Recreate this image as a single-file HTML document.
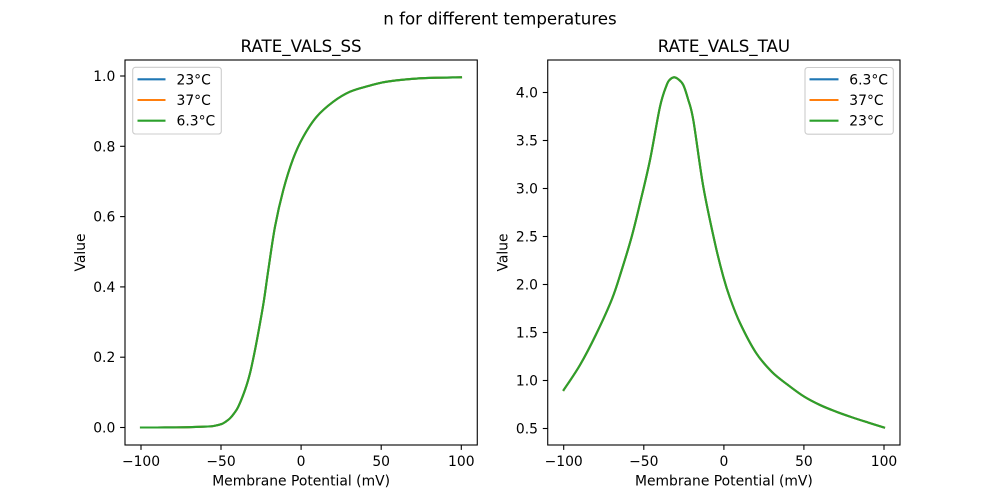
<!DOCTYPE html>
<html><head><meta charset="utf-8"><style>
html,body{margin:0;padding:0;background:#fff;}
svg{display:block;}
text{font-family:"DejaVu Sans","Liberation Sans",sans-serif;fill:#000;}
</style></head><body>
<svg id="fig" width="1000" height="500" viewBox="0 0 1000 500" xmlns="http://www.w3.org/2000/svg">
<rect x="0" y="0" width="1000" height="500" fill="#fff"/>
<text x="500" y="24.5" font-size="16.67" text-anchor="middle">n for different temperatures</text>

<!-- LEFT AXES -->
<text x="301.1" y="52" font-size="16.67" text-anchor="middle">RATE_VALS_SS</text>
<g fill="none" stroke-width="2.08" stroke-linejoin="round" stroke-linecap="square">
<polyline class="sm" stroke="#1f77b4" points="141,427.5 157,427.5 173,427.4 189,427.2 205,426.6 213,426.1 221.7,424 226,421.5 230,418.3 234,413.5 238.3,406.7 245,390 250,373.3 255,350 260,323.3 264,300 268.3,270 275,226.7 283.3,190 293.3,158.3 303.3,136.7 316.7,116.7 333.3,101.7 350,91.7 368.3,86 386.7,81.7 420,78.3 461,77.3"/>
<polyline class="sm" stroke="#ff7f0e" points="141,427.5 157,427.5 173,427.4 189,427.2 205,426.6 213,426.1 221.7,424 226,421.5 230,418.3 234,413.5 238.3,406.7 245,390 250,373.3 255,350 260,323.3 264,300 268.3,270 275,226.7 283.3,190 293.3,158.3 303.3,136.7 316.7,116.7 333.3,101.7 350,91.7 368.3,86 386.7,81.7 420,78.3 461,77.3"/>
<polyline class="sm" stroke="#2ca02c" points="141,427.5 157,427.5 173,427.4 189,427.2 205,426.6 213,426.1 221.7,424 226,421.5 230,418.3 234,413.5 238.3,406.7 245,390 250,373.3 255,350 260,323.3 264,300 268.3,270 275,226.7 283.3,190 293.3,158.3 303.3,136.7 316.7,116.7 333.3,101.7 350,91.7 368.3,86 386.7,81.7 420,78.3 461,77.3"/>
</g>
<rect x="125" y="60" width="352.27" height="385" fill="none" stroke="#000" stroke-width="1.1"/>
<g stroke="#000" stroke-width="1.1">
<line x1="141" y1="445" x2="141" y2="449.9"/>
<line x1="221" y1="445" x2="221" y2="449.9"/>
<line x1="301.1" y1="445" x2="301.1" y2="449.9"/>
<line x1="381.2" y1="445" x2="381.2" y2="449.9"/>
<line x1="461.3" y1="445" x2="461.3" y2="449.9"/>
<line x1="120.1" y1="427.5" x2="125" y2="427.5"/>
<line x1="120.1" y1="357.2" x2="125" y2="357.2"/>
<line x1="120.1" y1="286.9" x2="125" y2="286.9"/>
<line x1="120.1" y1="216.6" x2="125" y2="216.6"/>
<line x1="120.1" y1="146.3" x2="125" y2="146.3"/>
<line x1="120.1" y1="76" x2="125" y2="76"/>
</g>
<g font-size="13.89" text-anchor="middle">
<text x="141" y="466">−100</text>
<text x="221" y="466">−50</text>
<text x="301.1" y="466">0</text>
<text x="381.2" y="466">50</text>
<text x="461.3" y="466">100</text>
</g>
<g font-size="13.89" text-anchor="end">
<text x="115.3" y="432.5">0.0</text>
<text x="115.3" y="362.2">0.2</text>
<text x="115.3" y="291.9">0.4</text>
<text x="115.3" y="221.6">0.6</text>
<text x="115.3" y="151.3">0.8</text>
<text x="115.3" y="81">1.0</text>
</g>
<text x="301.1" y="485.5" font-size="13.89" text-anchor="middle">Membrane Potential (mV)</text>
<text transform="translate(85,252.5) rotate(-90)" font-size="13.89" text-anchor="middle">Value</text>
<!-- left legend -->
<rect x="132.7" y="67.3" width="88.6" height="66.7" rx="2.8" fill="#fff" fill-opacity="0.8" stroke="#cccccc" stroke-width="1.1"/>
<g stroke-width="2.08">
<line x1="137.5" y1="79.3" x2="165.5" y2="79.3" stroke="#1f77b4"/>
<line x1="137.5" y1="100" x2="165.5" y2="100" stroke="#ff7f0e"/>
<line x1="137.5" y1="120.7" x2="165.5" y2="120.7" stroke="#2ca02c"/>
</g>
<g font-size="13.89">
<text x="176.5" y="84.3">23°C</text>
<text x="176.5" y="105">37°C</text>
<text x="176.5" y="125.7">6.3°C</text>
</g>

<!-- RIGHT AXES -->
<text x="723.9" y="52" font-size="16.67" text-anchor="middle">RATE_VALS_TAU</text>
<g fill="none" stroke-width="2.08" stroke-linejoin="round" stroke-linecap="square">
<polyline class="sm" stroke="#1f77b4" points="563.7,390 580,365 596,334.5 612,299 621.7,270 631.7,236.7 640,203.3 650,160 660,106.7 666.7,85 670,79.5 674,77.3 678,79 683.3,85 688,99 693.3,120 703.3,186.7 715,243.3 723.3,276.7 730,298 740,323 756,352.8 772,372 788,385 804,396.5 820,405 836,411.6 852,417.3 868,422.5 884,427.5"/>
<polyline class="sm" stroke="#ff7f0e" points="563.7,390 580,365 596,334.5 612,299 621.7,270 631.7,236.7 640,203.3 650,160 660,106.7 666.7,85 670,79.5 674,77.3 678,79 683.3,85 688,99 693.3,120 703.3,186.7 715,243.3 723.3,276.7 730,298 740,323 756,352.8 772,372 788,385 804,396.5 820,405 836,411.6 852,417.3 868,422.5 884,427.5"/>
<polyline class="sm" stroke="#2ca02c" points="563.7,390 580,365 596,334.5 612,299 621.7,270 631.7,236.7 640,203.3 650,160 660,106.7 666.7,85 670,79.5 674,77.3 678,79 683.3,85 688,99 693.3,120 703.3,186.7 715,243.3 723.3,276.7 730,298 740,323 756,352.8 772,372 788,385 804,396.5 820,405 836,411.6 852,417.3 868,422.5 884,427.5"/>
</g>
<rect x="547.73" y="60" width="352.27" height="385" fill="none" stroke="#000" stroke-width="1.1"/>
<g stroke="#000" stroke-width="1.1">
<line x1="563.7" y1="445" x2="563.7" y2="449.9"/>
<line x1="643.8" y1="445" x2="643.8" y2="449.9"/>
<line x1="723.9" y1="445" x2="723.9" y2="449.9"/>
<line x1="803.9" y1="445" x2="803.9" y2="449.9"/>
<line x1="884" y1="445" x2="884" y2="449.9"/>
<line x1="542.8" y1="428.5" x2="547.7" y2="428.5"/>
<line x1="542.8" y1="380.5" x2="547.7" y2="380.5"/>
<line x1="542.8" y1="332.5" x2="547.7" y2="332.5"/>
<line x1="542.8" y1="284.5" x2="547.7" y2="284.5"/>
<line x1="542.8" y1="236.5" x2="547.7" y2="236.5"/>
<line x1="542.8" y1="188.5" x2="547.7" y2="188.5"/>
<line x1="542.8" y1="140.5" x2="547.7" y2="140.5"/>
<line x1="542.8" y1="92.5" x2="547.7" y2="92.5"/>
</g>
<g font-size="13.89" text-anchor="middle">
<text x="563.7" y="466">−100</text>
<text x="643.8" y="466">−50</text>
<text x="723.9" y="466">0</text>
<text x="803.9" y="466">50</text>
<text x="884" y="466">100</text>
</g>
<g font-size="13.89" text-anchor="end">
<text x="538" y="433.5">0.5</text>
<text x="538" y="385.5">1.0</text>
<text x="538" y="337.5">1.5</text>
<text x="538" y="289.5">2.0</text>
<text x="538" y="241.5">2.5</text>
<text x="538" y="193.5">3.0</text>
<text x="538" y="145.5">3.5</text>
<text x="538" y="97.5">4.0</text>
</g>
<text x="723.9" y="485.5" font-size="13.89" text-anchor="middle">Membrane Potential (mV)</text>
<text transform="translate(507.5,252.5) rotate(-90)" font-size="13.89" text-anchor="middle">Value</text>
<!-- right legend -->
<rect x="805" y="67.5" width="88.3" height="66.7" rx="2.8" fill="#fff" fill-opacity="0.8" stroke="#cccccc" stroke-width="1.1"/>
<g stroke-width="2.08">
<line x1="809.5" y1="79.3" x2="838.5" y2="79.3" stroke="#1f77b4"/>
<line x1="809.5" y1="100" x2="838.5" y2="100" stroke="#ff7f0e"/>
<line x1="809.5" y1="120.7" x2="838.5" y2="120.7" stroke="#2ca02c"/>
</g>
<g font-size="13.89">
<text x="849.3" y="84.3">6.3°C</text>
<text x="849.3" y="105">37°C</text>
<text x="849.3" y="125.7">23°C</text>
</g>
</svg>
<script>
(function(){
  var NS="http://www.w3.org/2000/svg";
  var pls=document.querySelectorAll("polyline.sm");
  for(var i=0;i<pls.length;i++){
    var pl=pls[i];
    var pts=pl.getAttribute("points").trim().split(/\s+/).map(function(s){var a=s.split(",");return [parseFloat(a[0]),parseFloat(a[1])];});
    var d="M"+pts[0][0]+","+pts[0][1];
    for(var j=0;j<pts.length-1;j++){
      var p0=pts[j>0?j-1:0],p1=pts[j],p2=pts[j+1],p3=pts[j+2<pts.length?j+2:pts.length-1];
      var t=1/6;
      var c1x=p1[0]+(p2[0]-p0[0])*t,c1y=p1[1]+(p2[1]-p0[1])*t;
      var c2x=p2[0]-(p3[0]-p1[0])*t,c2y=p2[1]-(p3[1]-p1[1])*t;
      d+=" C"+c1x.toFixed(2)+","+c1y.toFixed(2)+" "+c2x.toFixed(2)+","+c2y.toFixed(2)+" "+p2[0]+","+p2[1];
    }
    var p=document.createElementNS(NS,"path");
    p.setAttribute("d",d);
    p.setAttribute("stroke",pl.getAttribute("stroke"));
    pl.parentNode.replaceChild(p,pl);
  }
})();
</script>
</body></html>
